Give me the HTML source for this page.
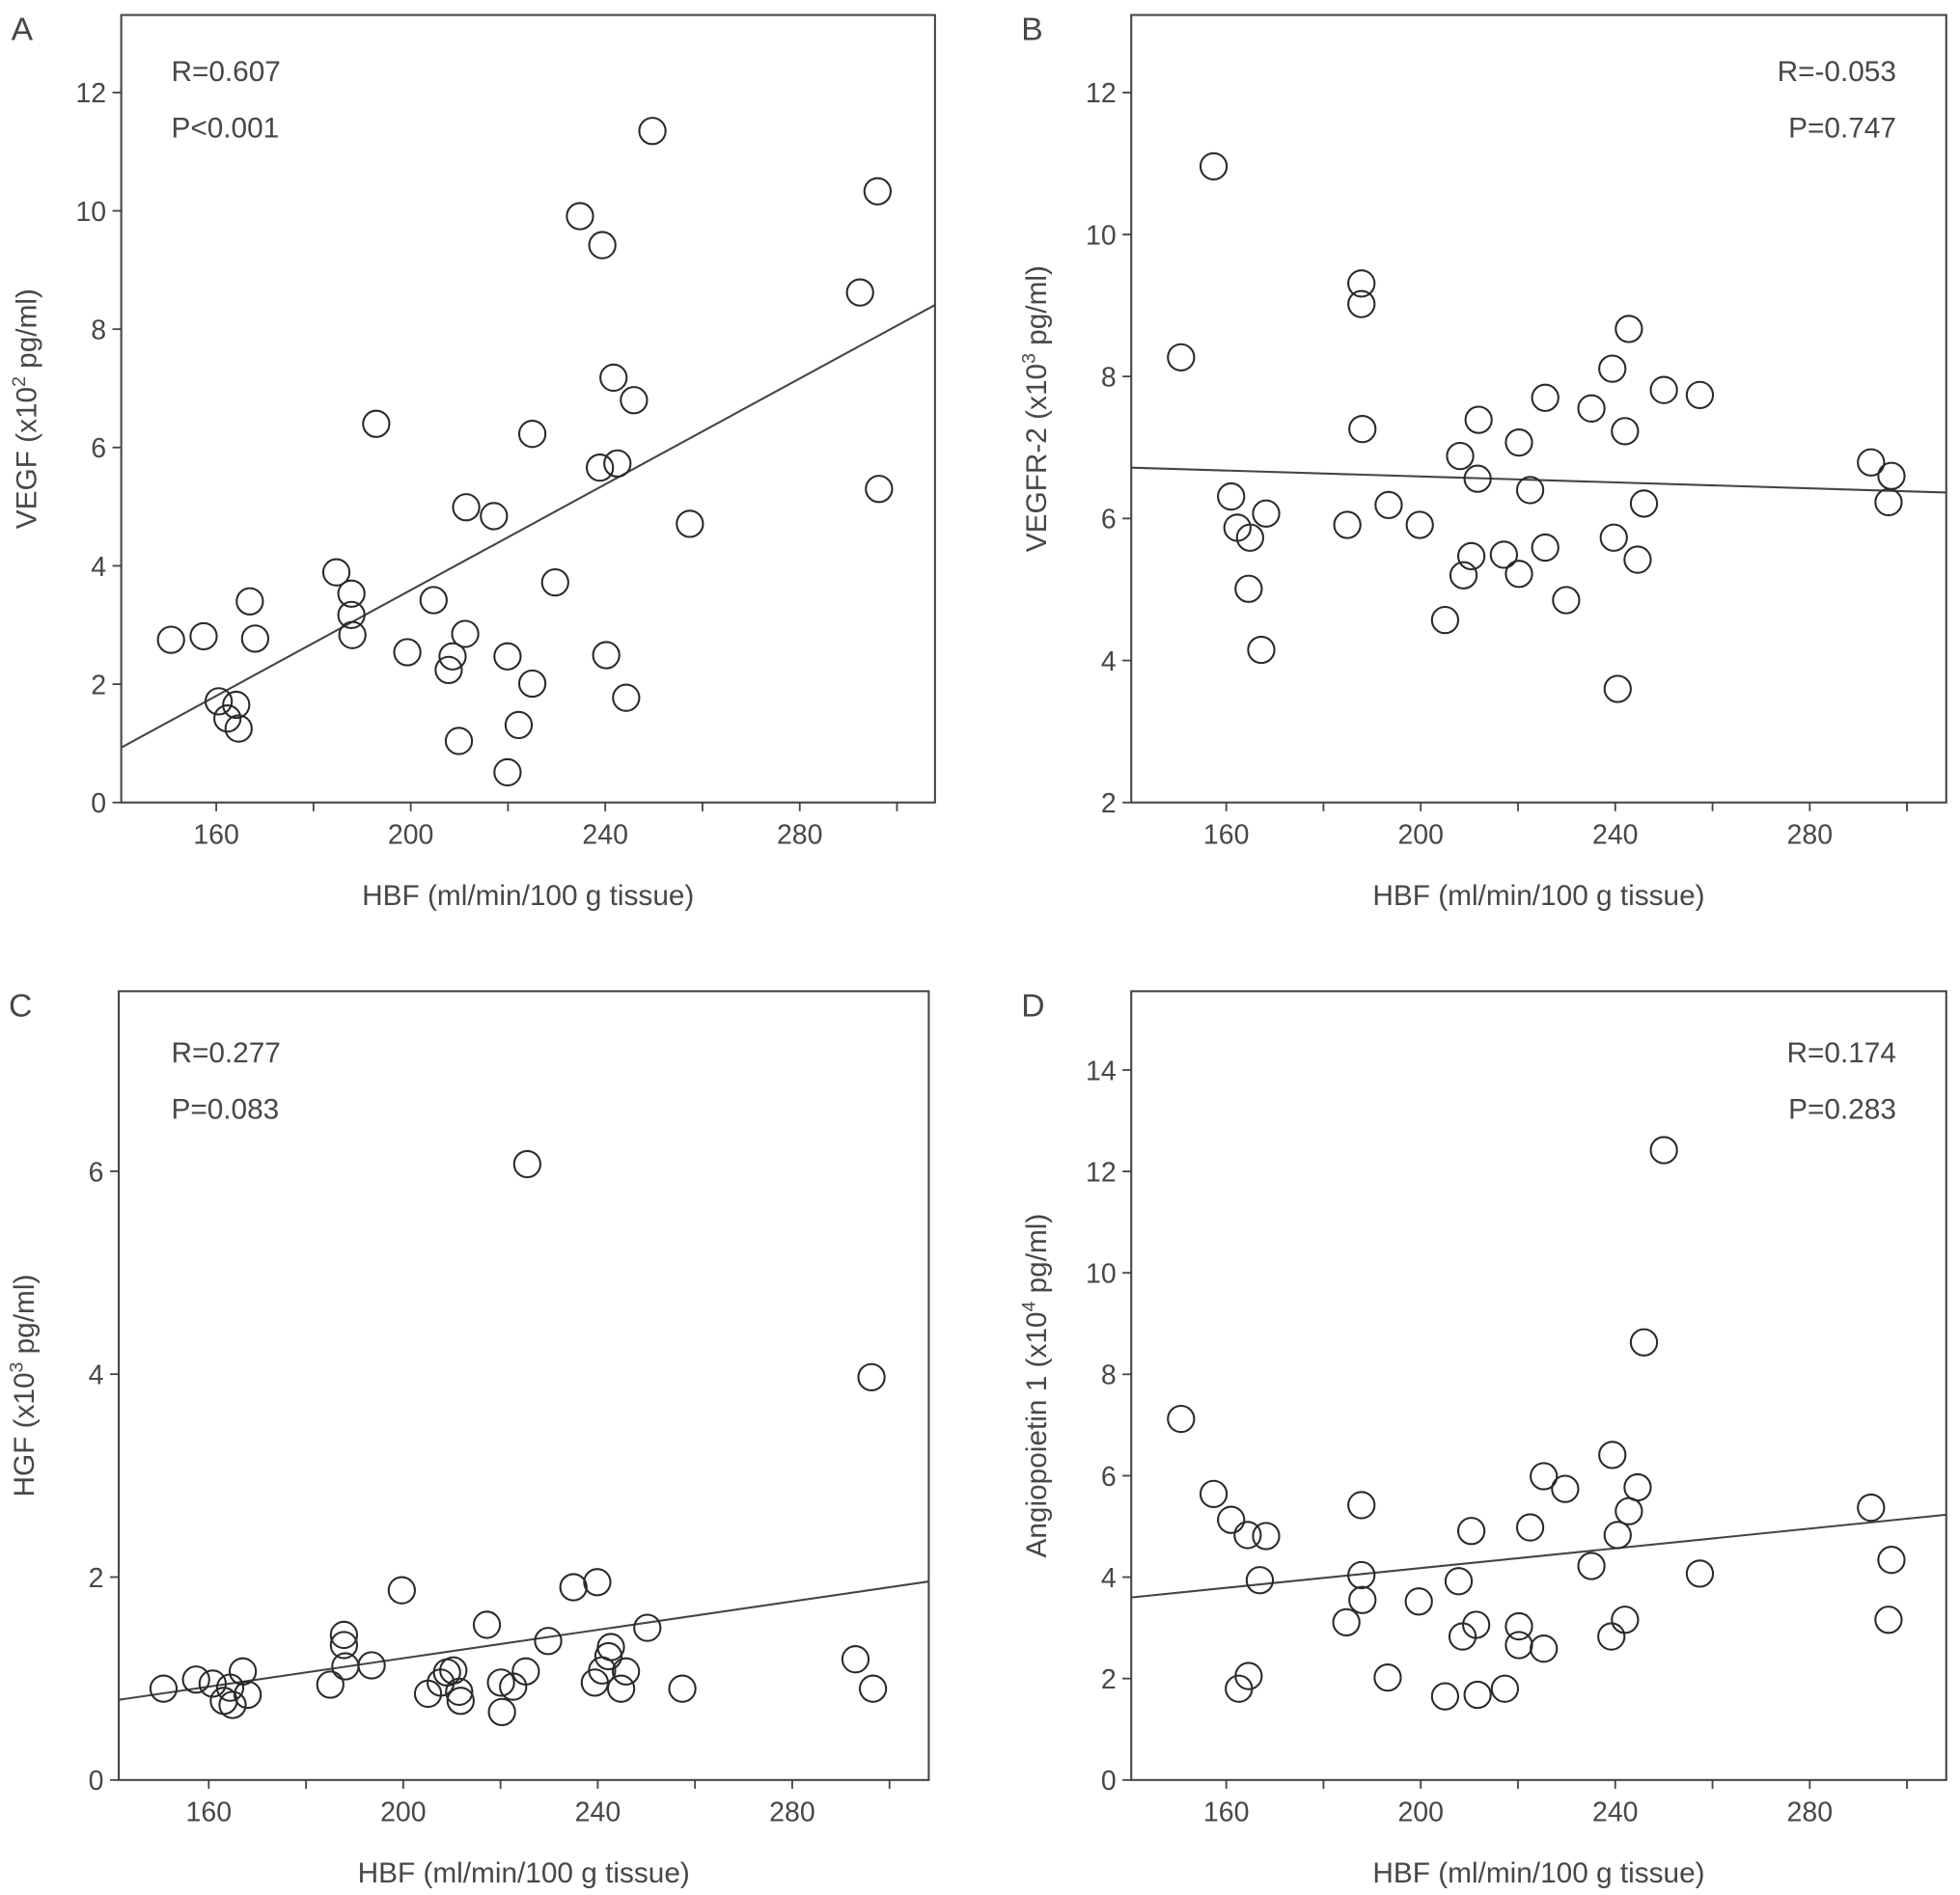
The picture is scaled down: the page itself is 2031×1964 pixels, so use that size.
<!DOCTYPE html>
<html><head><meta charset="utf-8"><style>
html,body{margin:0;padding:0;background:#fff}
svg{display:block}
text{font-family:"Liberation Sans",Arial,sans-serif;fill:#474747}
</style></head><body>
<svg id="fig" xmlns="http://www.w3.org/2000/svg" width="2031" height="1964" viewBox="0 0 1568 1516" preserveAspectRatio="none">
<rect x="0" y="0" width="1568" height="1516" fill="#fff"/>
</svg>
<script>
const xTicks=[160,180,200,220,240,260,280,300];
const xLabels=["160","","200","","240","","280",""];
// Panel A
const aX=[150.7,157.4,166.9,168.0,160.5,164.1,162.3,164.6,184.7,187.8,187.8,188.0,192.9,199.3,204.7,207.8,208.6,209.9,211.2,211.4,217.1,219.9,219.9,222.2,225.0,225.0,229.7,234.8,239.4,238.9,240.2,241.7,242.5,244.3,245.9,249.7,257.4,292.4,296.0,296.3];
const aY=[2.75,2.81,3.40,2.77,1.71,1.65,1.42,1.25,3.89,3.53,3.17,2.83,6.40,2.54,3.42,2.24,2.47,1.04,2.85,4.99,4.84,2.47,0.51,1.31,2.01,6.23,3.72,9.91,9.42,5.66,2.49,7.18,5.73,1.77,6.80,11.35,4.71,8.62,10.33,5.30];
const aLine=[-5.35,0.0447];
const aYTicks=[0,2,4,6,8,10,12];
// Panel B
const bX=[150.7,157.4,161.0,162.3,164.9,164.6,168.2,167.2,184.9,187.8,187.8,188.0,193.4,199.8,205.0,208.1,208.8,210.4,211.7,211.9,217.1,220.2,220.2,222.5,225.6,225.6,229.9,235.1,239.4,239.7,240.5,242.0,242.8,244.6,245.9,250.0,257.4,292.6,296.8,296.2];
const bY=[8.27,10.96,6.31,5.87,5.73,5.01,6.07,4.15,5.91,9.31,9.02,7.26,6.19,5.91,4.57,6.88,5.20,5.47,6.56,7.39,5.49,7.07,5.22,6.40,7.70,5.59,4.85,7.55,8.11,5.73,3.60,7.23,8.67,5.42,6.21,7.81,7.74,6.79,6.60,6.23];
const bLine=[7.01,-0.00209];
const bYTicks=[2,4,6,8,10,12];
// Panel C
const cX=[150.7,157.4,160.8,164.4,167.0,163.1,164.9,168.0,185.0,187.8,187.8,188.1,193.5,199.7,205.1,207.7,209.0,210.3,211.5,211.8,217.2,220.1,220.3,222.6,225.2,225.5,229.8,235.0,239.9,239.4,240.9,242.2,242.7,244.8,245.8,250.2,257.4,293.0,296.3,296.6];
const cY=[0.90,0.99,0.95,0.91,1.07,0.78,0.74,0.84,0.94,1.43,1.33,1.12,1.13,1.87,0.85,0.96,1.06,1.08,0.87,0.78,1.53,0.96,0.67,0.92,1.07,6.07,1.37,1.90,1.95,0.96,1.08,1.22,1.31,0.90,1.07,1.50,0.90,1.19,3.97,0.90];
const cLine=[-0.20,0.0070];
const cYTicks=[0,2,4,6];
// Panel D
const dX=[150.7,157.4,161.0,164.4,168.2,166.9,164.6,162.6,184.7,187.8,187.8,188.0,193.2,199.6,205.0,207.8,208.6,210.4,211.4,211.7,217.3,220.2,220.2,222.5,225.3,225.3,229.7,235.1,239.4,239.2,240.5,242.0,242.8,244.6,245.9,250.0,257.4,292.6,296.8,296.2];
const dY=[7.12,5.64,5.13,4.83,4.81,3.94,2.05,1.80,3.11,5.42,4.04,3.55,2.02,3.52,1.65,3.92,2.83,4.91,3.06,1.68,1.80,3.03,2.66,4.98,5.99,2.59,5.74,4.22,6.41,2.83,4.83,3.16,5.30,5.77,8.63,12.42,4.07,5.37,4.34,3.16];
const dLine=[2.233,0.00973];
const dYTicks=[0,2,4,6,8,10,12,14];

const NS="http://www.w3.org/2000/svg";
const svg=document.getElementById('fig');
function el(tag,attrs,parent,txt){const e=document.createElementNS(NS,tag);for(const k in attrs)e.setAttribute(k,attrs[k]);if(txt!==undefined)e.textContent=txt;(parent||svg).appendChild(e);return e;}

const panels=[
 {id:'a',letter:'A',box:[97,12,748,642],x160:173,ymin:0,ymax:12,yTop:74,xs:aX,ys:aY,line:aLine,yt:aYTicks,ylab:'VEGF (x10',sup:'2',yl2:' pg/ml)',stat:['R=0.607','P<0.001'],right:false,statY:57},
 {id:'b',letter:'B',box:[905,12,1557,642],x160:981,ymin:2,ymax:12,yTop:74,xs:bX,ys:bY,line:bLine,yt:bYTicks,ylab:'VEGFR-2 (x10',sup:'3',yl2:' pg/ml)',stat:['R=-0.053','P=0.747'],right:true,statY:57},
 {id:'c',letter:'C',box:[95,793,743,1424],x160:167,ymin:0,ymax:6,yTop:937,xs:cX,ys:cY,line:cLine,yt:cYTicks,ylab:'HGF (x10',sup:'3',yl2:' pg/ml)',stat:['R=0.277','P=0.083'],right:false,statY:842},
 {id:'d',letter:'D',box:[905,793,1557,1424],x160:981,ymin:0,ymax:14,yTop:856,xs:dX,ys:dY,line:dLine,yt:dYTicks,ylab:'Angiopoietin 1 (x10',sup:'4',yl2:' pg/ml)',stat:['R=0.174','P=0.283'],right:true,statY:842}
];
const XS=3.89;
panels.forEach(p=>{
 const [L,T,R,B]=p.box;
 const g=el('g',{});
 
 
 const xf=v=>p.x160+(v-160)*XS;
 const yf=v=>B-(v-p.ymin)*(B-p.yTop)/(p.ymax-p.ymin);
 const lt=el('text',{x:L-88,y:T+20,'font-size':26},g,p.letter);
 
 
 const box=el('rect',{x:L,y:T,width:R-L,height:B-T,fill:'none',stroke:'#444','stroke-width':1.6},g);
 
 
 p.yt.forEach(v=>{
  const y=yf(v);
  el('line',{x1:L-7,x2:L,y1:y,y2:y,stroke:'#444','stroke-width':1.4},g);
  const t=el('text',{x:L-12,y:y+8,'font-size':22,'text-anchor':'end'},g,String(v));
  
  
 });
 xTicks.forEach((v,i)=>{
  const x=xf(v);
  el('line',{x1:x,x2:x,y1:B,y2:B+7,stroke:'#444','stroke-width':1.4},g);
  if(xLabels[i]){
   const t=el('text',{x:x,y:B+33,'font-size':22,'text-anchor':'middle'},g,xLabels[i]);
   
   
  }
 });
 const xt=el('text',{x:(L+R)/2,y:B+82,'font-size':23,'text-anchor':'middle'},g,'HBF (ml/min/100 g tissue)');
 
 
 const cy=(T+B)/2, cx=L-68;
 const yt=el('text',{x:cx,y:cy,'font-size':23,'text-anchor':'middle',transform:`rotate(-90 ${cx} ${cy})`},g);
 
 
 el('tspan',{},yt,p.ylab);
 el('tspan',{'font-size':15,dy:-9},yt,p.sup);
 el('tspan',{dy:9},yt,p.yl2);
 p.stat.forEach((s,i)=>{
  const t=el('text',{x:p.right?1517:137,y:p.statY+i*45+8,'font-size':23,'text-anchor':p.right?'end':'start'},g,s);
  
  
 });
 const xa=160+(L-p.x160)/XS, xb=160+(R-p.x160)/XS;
 const ln=el('line',{x1:L,y1:yf(p.line[0]+p.line[1]*xa),x2:R,y2:yf(p.line[0]+p.line[1]*xb),stroke:'#444','stroke-width':1.6},g);
 
 
 p.xs.forEach((v,i)=>{
  const c=el('circle',{cx:xf(v),cy:yf(p.ys[i]),r:10.5,fill:'none',stroke:'#2a2a2a','stroke-width':1.6},g);
  
  
 });
});
</script>
</body></html>
